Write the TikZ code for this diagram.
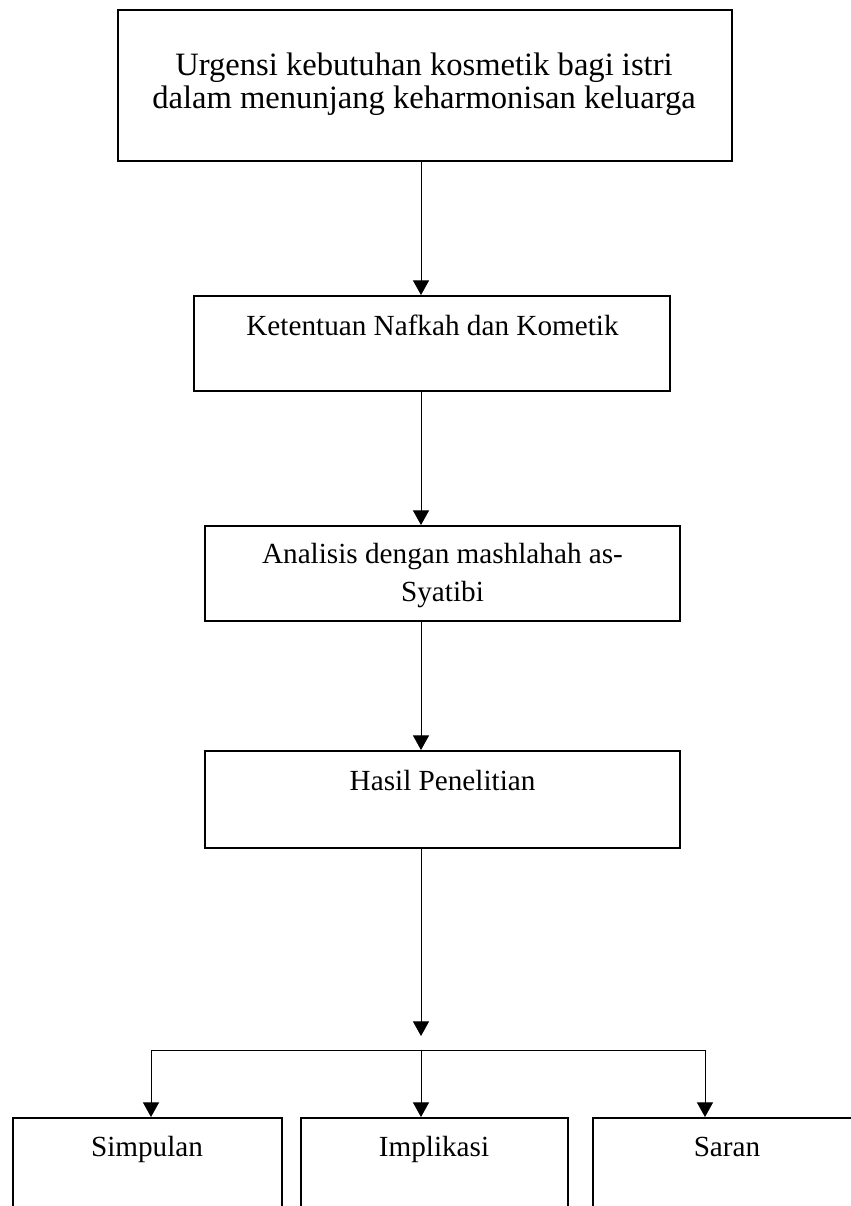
\documentclass[tikz,border=0pt]{standalone}
\usepackage{fontspec}
\setmainfont{Liberation Serif}
\usetikzlibrary{arrows.meta, positioning}

\begin{document}
\begin{tikzpicture}[x=0.5pt, y=-0.5pt,
    box/.style={draw, line width=1pt, inner sep=0pt},
    txt/.style={inner sep=0pt, align=center, font=\fontsize{14.6}{18.9}\selectfont},
    arr/.style={line width=0.5pt, -{Triangle[width=8pt,length=7.3pt]}}]
    \useasboundingbox (0,0) rectangle (851,1206);
    \clip (0,0) rectangle (851,1206);

    % Main flow boxes
    \node[box, minimum width=307pt, minimum height=75.5pt] (urgensi) at (425,85.5) {};
    \node[txt, anchor=north, font=\fontsize{16.3}{16.5}\selectfont] (urgensiText) at (424,52.7)
        {Urgensi kebutuhan kosmetik bagi istri\\dalam menunjang keharmonisan keluarga};

    \node[box, minimum width=238pt, minimum height=47.5pt] (ketentuan) at (432,343.5) {};
    \node[txt, anchor=base] (ketentuanText) at (432.5,335) {Ketentuan Nafkah dan Kometik};

    \node[box, minimum width=237.5pt, minimum height=47.5pt] (analisis) at (442.5,573.5) {};
    \node[txt, anchor=north] (analisisText) at (442.5,543)
        {Analisis dengan mashlahah as-\\Syatibi};

    \node[box, minimum width=237.5pt, minimum height=48.5pt] (hasil) at (442,799.5) {};
    \node[txt, anchor=base] (hasilText) at (442.6,790) {Hasil Penelitian};

    % Output boxes (cut at the page edge)
    \node[box, minimum width=134.5pt, minimum height=60pt] (simpulan) at (147,1178) {};
    \node[txt, anchor=base] (simpulanText) at (147,1156) {Simpulan};

    \node[box, minimum width=133.5pt, minimum height=60pt] (implikasi) at (434.5,1178) {};
    \node[txt, anchor=base] (implikasiText) at (434,1156) {Implikasi};

    \node[box, minimum width=134.5pt, minimum height=60pt] (saran) at (727.5,1178) {};
    \node[txt, anchor=base] (saranText) at (727,1156) {Saran};

    % Connectors
    \coordinate (spine) at (421,0);
    \coordinate (hasilEnd) at (421,1036);
    \coordinate (forkL) at (151,1050);
    \coordinate (forkM) at (421,1050);
    \coordinate (forkR) at (705,1050);

    \draw[arr] (urgensi.south -| spine) -- (ketentuan.north -| spine);
    \draw[arr] (ketentuan.south -| spine) -- (analisis.north -| spine);
    \draw[arr] (analisis.south -| spine) -- (hasil.north -| spine);
    \draw[arr] (hasil.south -| spine) -- (hasilEnd);

    \draw[line width=0.5pt] (forkL) -- (forkR);
    \draw[arr] (forkL) -- (forkL |- simpulan.north);
    \draw[arr] (forkM) -- (forkM |- implikasi.north);
    \draw[arr] (forkR) -- (forkR |- saran.north);
\end{tikzpicture}
\end{document}
